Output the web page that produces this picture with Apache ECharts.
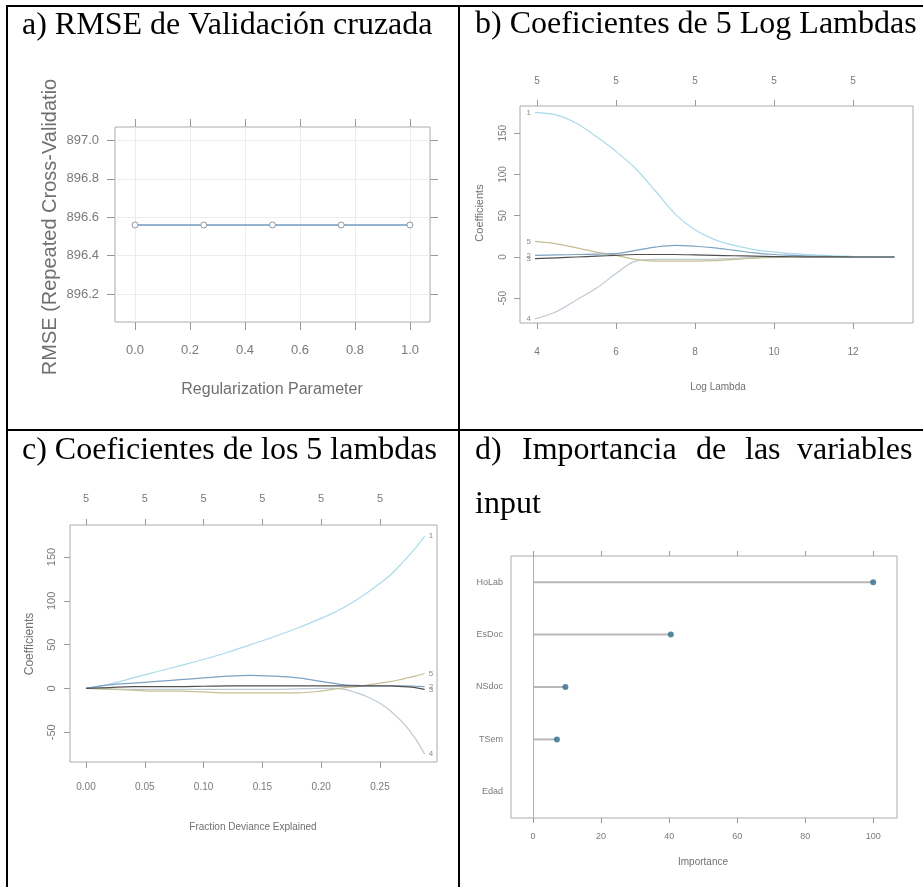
<!DOCTYPE html>
<html>
<head>
<meta charset="utf-8">
<script src="https://cdn.jsdelivr.net/npm/echarts@6/dist/echarts.min.js"></script>
<style>
html, body { margin: 0; padding: 0; background: #fff; }
#main { width: 923px; height: 887px; }
</style>
</head>
<body>
<div id="main"></div>
<script>
// a) RMSE vs regularization parameter
var alphaVals = [0, 0.25, 0.5, 0.75, 1.0];
var rmseVals = [896.56, 896.56, 896.56, 896.56, 896.56];
var alphaTicks = [0, 0.2, 0.4, 0.6, 0.8, 1.0];
var rmseTicks = [896.2, 896.4, 896.6, 896.8, 897.0];

// b) coefficient paths vs log lambda
var logLambda = [3.95, 4.5, 5, 5.5, 6, 6.5, 7, 7.5, 8, 8.5, 9, 9.5, 10, 10.5, 11, 11.5, 12, 12.5, 13.05];
var pathB1 = [175, 172, 162, 146, 128, 107, 80, 52, 33, 21, 14, 9, 6, 4, 2.5, 1.5, 0.7, 0.3, 0];
var pathB2 = [-75, -66, -52, -38, -20, -5, -3, -3, -3, -2.5, -1.5, -0.8, -0.4, -0.2, 0, 0, 0, 0, 0];
var pathB3 = [19, 16, 11, 6, 2, -3, -5, -5, -5, -4.5, -3, -1.5, -0.5, 0, 0, 0, 0, 0, 0];
var pathB4 = [-2, -1, 0, 1, 2, 3, 3, 3, 2.5, 2, 1.5, 1, 0.5, 0.3, 0.2, 0.1, 0, 0, 0];
var pathB5 = [2, 2.5, 3, 3.5, 4, 8, 12, 14, 13, 11, 8, 5, 3, 2, 1, 0.5, 0, 0, 0];
var logLambdaTicks = [4, 6, 8, 10, 12];
var coefTicks = [-50, 0, 50, 100, 150];
var varLabels = ['1', '4', '5', '3', '2'];

// c) coefficient paths vs fraction deviance explained
var devFrac = [0, 0.02, 0.04, 0.06, 0.08, 0.10, 0.12, 0.14, 0.16, 0.18, 0.20, 0.21, 0.22, 0.23, 0.24, 0.25, 0.26, 0.27, 0.28, 0.288];
var pathC1 = [0, 5, 12, 19, 26, 33, 41, 50, 59, 69, 80, 86, 93, 101, 110, 120, 131, 145, 160, 174];
var pathC2 = [0, -0.5, -1, -1, -1, -1, -1, -1, -1, -0.5, 0, 0, -1, -5, -10, -17, -27, -40, -57, -75];
var pathC3 = [0, -1, -2, -3, -3, -4, -5, -5, -5, -5, -3, -1, 1, 2, 4, 6, 8, 11, 14, 17];
var pathC4 = [0, 1, 2, 2, 2, 2.5, 3, 3, 3, 3, 3, 3, 3, 3, 3, 3, 3, 2, 1, -1];
var pathC5 = [0, 4, 6, 8, 10, 12, 14, 15, 14, 12, 8, 6, 4, 3.5, 3, 3, 3, 3, 2.5, 2];
var devTicks = [0, 0.05, 0.10, 0.15, 0.20, 0.25];

// d) variable importance
var varNames = ['Edad', 'TSem', 'NSdoc', 'EsDoc', 'HoLab'];
var importance = [0, 7, 9.5, 40.5, 100];
var impTicks = [0, 20, 40, 60, 80, 100];

var pathColors = ['#a9dbe8', '#bdc9d3', '#c6bf94', '#505050', '#7ca3c4'];

function zip(xs, ys) {
    return xs.map(function (x, i) { return [x, ys[i]]; });
}

var sans = 'Liberation Sans';
var boxColor = '#aaaaaa';
var tickColor = '#999999';
var labColor = '#7a7a7a';

function valAxis(grid, pos, min, max, ticks, fmt, opts) {
    opts = opts || {};
    return {
        type: 'value', gridIndex: grid, position: pos, min: min, max: max,
        axisLine: { show: false, onZero: false },
        axisTick: { show: true, customValues: ticks, length: opts.tickLen || 6,
            lineStyle: { color: tickColor } },
        axisLabel: { show: !!fmt, customValues: ticks, formatter: fmt,
            margin: opts.margin || 8, rotate: opts.rotate || 0,
            fontFamily: sans, fontSize: opts.fontSize || 10, color: labColor },
        splitLine: { show: !!opts.split, lineStyle: { color: '#ececec' } }
    };
}

var chart = echarts.init(document.getElementById('main'));

var pathsB = [pathB1, pathB2, pathB3, pathB4, pathB5];
var pathsC = [pathC1, pathC2, pathC3, pathC4, pathC5];
var series = [];

series.push({
    type: 'line', xAxisIndex: 0, yAxisIndex: 0,
    data: zip(alphaVals, rmseVals),
    symbol: 'circle', symbolSize: 6, showAllSymbol: true,
    lineStyle: { color: '#6f9cc2', width: 1.5 },
    itemStyle: { color: '#ffffff', borderColor: '#8a9aa8', borderWidth: 1 }
});

pathsB.forEach(function (p, k) {
    var pts = zip(logLambda, p).map(function (d, i) {
        if (i !== 0) return d;
        return { value: d, label: { show: true, position: 'left', distance: 4,
            formatter: varLabels[k], fontSize: 8, color: '#888', fontFamily: sans } };
    });
    series.push({
        type: 'line', xAxisIndex: 2, yAxisIndex: 2, data: pts, smooth: 0.35,
        symbol: 'circle', symbolSize: 0, showAllSymbol: true,
        lineStyle: { color: pathColors[k], width: 1.2 },
        itemStyle: { color: pathColors[k] }, z: k === 3 ? 3 : 2
    });
});

pathsC.forEach(function (p, k) {
    series.push({
        type: 'line', xAxisIndex: 4, yAxisIndex: 3, data: zip(devFrac, p), smooth: 0.35,
        showSymbol: false,
        lineStyle: { color: pathColors[k], width: 1.2 },
        endLabel: { show: true, formatter: varLabels[k], distance: 4,
            fontSize: 8, color: '#888', fontFamily: sans },
        z: k === 3 ? 3 : 2
    });
});

series.push({
    type: 'bar', xAxisIndex: 6, yAxisIndex: 4, data: importance, barWidth: 2,
    itemStyle: { color: '#b8b8b8' },
    markLine: { silent: true, symbol: 'none', label: { show: false },
        lineStyle: { color: '#b0b0b0', type: 'solid', width: 1 },
        data: [{ xAxis: 0 }] }
});
series.push({
    type: 'scatter', xAxisIndex: 6, yAxisIndex: 4,
    data: importance.map(function (v, i) { return [v, i]; }).filter(function (d) { return d[0] > 0; }),
    symbolSize: 6, itemStyle: { color: '#2f6a8a' }
});

var f1 = function (v) { return v.toFixed(1); };
var f2 = function (v) { return v.toFixed(2); };
var f0 = function (v) { return String(Math.round(v)); };
var five = function () { return '5'; };

var titleFont = '32px "Liberation Serif"';
function title(x, y, text) {
    return { type: 'text', x: x, y: y, silent: true,
        style: { text: text, font: titleFont, fill: '#000', verticalAlign: 'middle' } };
}
function axisTitle(x, y, text, size, rotated) {
    return { type: 'text', x: x, y: y, rotation: rotated ? Math.PI / 2 : 0, silent: true,
        style: { text: text, font: size + 'px "Liberation Sans"', fill: '#707070',
            align: 'center', verticalAlign: 'middle' } };
}

var option = {
    animation: false,
    backgroundColor: '#ffffff',
    grid: [
        { left: 115, top: 127, width: 315, height: 195, show: true, borderColor: boxColor, borderWidth: 1 },
        { left: 520, top: 106, width: 393, height: 217, show: true, borderColor: boxColor, borderWidth: 1 },
        { left: 70, top: 525, width: 367, height: 237, show: true, borderColor: boxColor, borderWidth: 1 },
        { left: 511, top: 556, width: 386, height: 262, show: true, borderColor: boxColor, borderWidth: 1 }
    ],
    xAxis: [
        valAxis(0, 'bottom', -0.073, 1.073, alphaTicks, f1, { margin: 22, fontSize: 13, tickLen: 8, split: true }),
        valAxis(0, 'top', -0.073, 1.073, alphaTicks, null, { tickLen: 8 }),
        valAxis(1, 'bottom', 3.57, 13.52, logLambdaTicks, f0, { margin: 24 }),
        valAxis(1, 'top', 3.57, 13.52, logLambdaTicks, five, { margin: 20 }),
        valAxis(2, 'bottom', -0.0136, 0.2985, devTicks, f2, { margin: 20 }),
        valAxis(2, 'top', -0.0136, 0.2985, devTicks, five, { margin: 21, fontSize: 11 }),
        valAxis(3, 'bottom', -6.5, 107, impTicks, f0, { margin: 14, fontSize: 9, tickLen: 5 }),
        valAxis(3, 'top', -6.5, 107, impTicks, null, { tickLen: 5 })
    ],
    yAxis: [
        valAxis(0, 'left', 896.055, 897.07, rmseTicks, f1, { margin: 16, fontSize: 13, tickLen: 8, split: true }),
        valAxis(0, 'right', 896.055, 897.07, rmseTicks, null, { tickLen: 8 }),
        valAxis(1, 'left', -80, 183, coefTicks, f0, { margin: 12, rotate: 90 }),
        valAxis(2, 'left', -84, 186.6, coefTicks, f0, { margin: 13, rotate: 90, fontSize: 11 }),
        {
            type: 'category', gridIndex: 3, data: varNames,
            axisLine: { show: false, onZero: false }, axisTick: { show: false },
            axisLabel: { margin: 8, fontFamily: sans, fontSize: 9, color: labColor }
        }
    ],
    series: series,
    graphic: [
        // table borders
        { type: 'rect', silent: true, shape: { x: 7, y: 6, width: 930, height: 900 },
          style: { fill: 'none', stroke: '#000', lineWidth: 2 } },
        { type: 'line', silent: true, shape: { x1: 459, y1: 6, x2: 459, y2: 900 },
          style: { stroke: '#000', lineWidth: 2 } },
        { type: 'line', silent: true, shape: { x1: 7, y1: 430, x2: 930, y2: 430 },
          style: { stroke: '#000', lineWidth: 2 } },
        // panel titles
        title(22, 26, 'a) RMSE de Validación cruzada'),
        title(475, 25, 'b) Coeficientes de 5 Log Lambdas'),
        title(22, 451, 'c) Coeficientes de los 5 lambdas'),
        title(475, 451, 'd)'),
        title(522, 451, 'Importancia'),
        title(696, 451, 'de'),
        title(745, 451, 'las'),
        title(797, 451, 'variables'),
        title(475, 505, 'input'),
        // axis titles
        axisTitle(272, 390, 'Regularization Parameter', 16, false),
        axisTitle(50, 227, 'RMSE (Repeated Cross-Validatio', 20, true),
        axisTitle(718, 387, 'Log Lambda', 10, false),
        axisTitle(480, 213, 'Coefficients', 11, true),
        axisTitle(253, 827, 'Fraction Deviance Explained', 10, false),
        axisTitle(30, 644, 'Coefficients', 12, true),
        axisTitle(703, 862, 'Importance', 10, false)
    ]
};

chart.setOption(option);
</script>
</body>
</html>
